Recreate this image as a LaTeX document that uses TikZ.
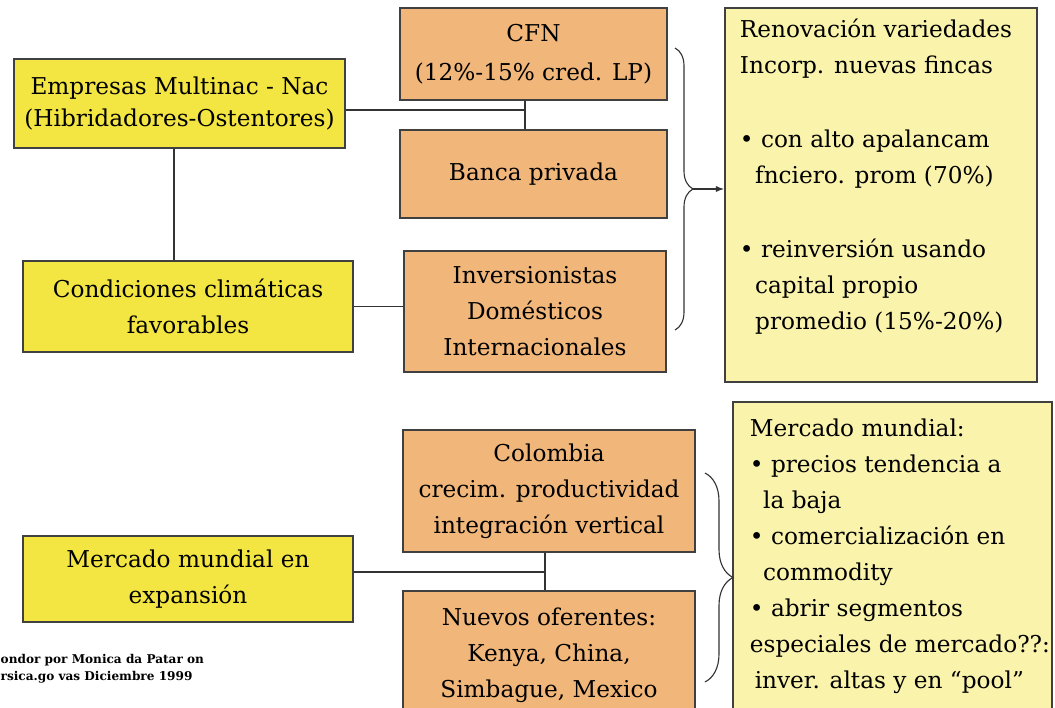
\documentclass[tikz,border=0pt]{standalone}
\usepackage{fontspec}
\setmainfont{DejaVu Serif}
\usetikzlibrary{arrows.meta,decorations.pathreplacing}
\definecolor{boxyellow}{RGB}{244,230,66}
\definecolor{boxorange}{RGB}{240,182,122}
\definecolor{boxpale}{RGB}{250,243,172}
\begin{document}
\begin{tikzpicture}[x=0.025cm, y=-0.025cm,
        every node/.style = {shape=rectangle, draw=black!75, line width=1pt,
            align=center, inner sep=0pt,
            font=\fontsize{16.5}{25.6}\selectfont},
        yellowbox/.style = {fill=boxyellow},
        orangebox/.style = {fill=boxorange},
        palebox/.style = {fill=boxpale},
        link/.style = {line width=1pt, draw=black!80},
        bracket/.style = {decorate, line width=0.8pt, draw=black!80},
        arrow/.style = {link, -{Latex[length=6pt,width=4.5pt]}}]
    \useasboundingbox (0,0) rectangle (1055,708);
    \clip (0,0) rectangle (1055,708);
    % financing
    \node[yellowbox, minimum width=8.275cm, minimum height=2.225cm,
        font=\fontsize{16.5}{22.7}\selectfont] (empresas) at (179.5,103.5)
        {Empresas Multinac - Nac\\(Hibridadores-Ostentores)};
    \node[yellowbox, minimum width=8.25cm, minimum height=2.275cm] (condiciones) at (188,306.5)
        {Condiciones climáticas\\favorables};
    \node[orangebox, minimum width=6.675cm, minimum height=2.3cm,
        font=\fontsize{16.5}{28}\selectfont] (cfn) at (533.5,54)
        {CFN\\(12\%-15\% cred. LP)};
    \node[orangebox, minimum width=6.675cm, minimum height=2.2cm] (banca) at (533.5,174)
        {Banca privada};
    \node[orangebox, minimum width=6.55cm, minimum height=3.025cm] (inversion) at (535,311.5)
        {Inversionistas\\Domésticos\\Internacionales};
    \node[palebox, inner xsep=0.375cm, inner ysep=0.28cm] (renovacion) at (881,195)
        {\parbox[c][8.79cm][t]{7.05cm}{\raggedright
        Renovación variedades\\
        Incorp. nuevas fincas\\[27pt]
        • con alto apalancam\\
        \hspace*{0.38cm}fnciero. prom (70\%)\\[27pt]
        • reinversión usando\\
        \hspace*{0.38cm}capital propio\\
        \hspace*{0.38cm}promedio (15\%-20\%)}};
    % market
    \node[yellowbox, minimum width=8.25cm, minimum height=2.15cm] (mercado) at (188,579)
        {Mercado mundial en\\expansión};
    \node[orangebox, minimum width=7.3cm, minimum height=3.05cm] (colombia) at (549,491)
        {Colombia\\crecim. productividad\\integración vertical};
    \node[orangebox, minimum width=7.3cm, minimum height=3.225cm] (nuevos) at (549,655.5)
        {Nuevos oferentes:\\Kenya, China,\\Simbague, Mexico};
    \node[palebox, inner xsep=0.425cm, inner ysep=0.43cm] (mundial) at (892.5,561)
        {\parbox[c][7.09cm][t]{7.125cm}{\raggedright
        Mercado mundial:\\
        • precios tendencia a\\
        \hspace*{0.33cm}la baja\\
        • comercialización en\\
        \hspace*{0.33cm}commodity\\
        • abrir segmentos\\
        \mbox{especiales de mercado??:}\\
        \hspace*{0.12cm}inver. altas y en “pool”}};
    \node[draw=none, align=left, anchor=west,
        font=\bfseries\fontsize{8.6}{12.2}\selectfont] (fuente) at (0,669)
        {ondor por Monica da Patar on\\rsica.go vas Diciembre 1999};
    % connectors
    \coordinate (jleft) at (174,0);
    \coordinate (jtop) at (525,110);
    \coordinate (jbot) at (545,572);
    \coordinate (tipA) at (693,189);
    \draw[link] (empresas.south -| jleft) -- (condiciones.north -| jleft);
    \draw[link] (jtop -| empresas.east) -- (jtop);
    \draw[link] (cfn.south -| jtop) -- (banca.north -| jtop);
    \draw[link] (condiciones.east) -- (inversion.west |- condiciones.east);
    \draw[link] (jbot -| mercado.east) -- (jbot);
    \draw[link] (colombia.south -| jbot) -- (nuevos.north -| jbot);
    % braces
    \draw[bracket, decoration={brace, amplitude=0.45cm}] (675,48) -- (675,330);
    \draw[arrow] (tipA) -- (tipA -| renovacion.west);
    \draw[bracket, decoration={brace, amplitude=0.7cm}] (705,473) -- (705,682);
\end{tikzpicture}
\end{document}
